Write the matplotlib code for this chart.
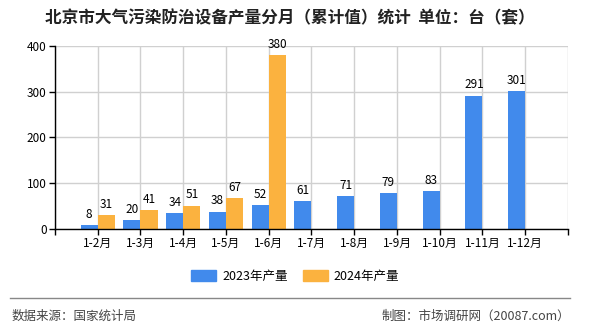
import numpy as np
import matplotlib
matplotlib.use('Agg')
import matplotlib.pyplot as plt
from matplotlib.patches import Patch

plt.rcParams['font.family'] = ['Noto Sans CJK SC', 'DejaVu Sans']

categories = ['1-2月', '1-3月', '1-4月', '1-5月', '1-6月', '1-7月',
              '1-8月', '1-9月', '1-10月', '1-11月', '1-12月']
values_2023 = [8, 20, 34, 38, 52, 61, 71, 79, 83, 291, 301]
values_2024 = [31, 41, 51, 67, 380]
y_ticks = [0, 100, 200, 300, 400]

BLUE = '#418AEC'
ORANGE = '#FBB23F'

fig = plt.figure(figsize=(5.9, 3.3), dpi=100)
fig.patch.set_facecolor('white')
ax = fig.add_axes([0.0932, 0.306, 0.8695, 0.5555])

x = np.arange(1, len(categories) + 1)
w = 0.4
x24 = x[:len(values_2024)]
b1 = ax.bar(x - w / 2, values_2023, width=w, color=BLUE, zorder=3)
b2 = ax.bar(x24 + w / 2, values_2024, width=w, color=ORANGE, zorder=3)

# value labels above each bar
for bars, vals in [(b1, values_2023), (b2, values_2024)]:
    for rect, v in zip(bars, vals):
        ax.annotate(str(v), (rect.get_x() + rect.get_width() / 2, v),
                    xytext=(0, 3), textcoords='offset points',
                    ha='center', va='bottom', fontsize=8.5, color='black')

ax.set_xlim(0, len(categories) + 1)
ax.set_ylim(0, 400)
ax.set_xticks(np.arange(0, len(categories) + 2))
ax.set_xticklabels([''] + categories + [''], fontsize=8.5)
ax.set_yticks(y_ticks)
ax.set_yticklabels([str(t) for t in y_ticks], fontsize=8.5)
ax.tick_params(axis='both', length=4, width=1, color='black', pad=2)
ax.grid(True, color='#D0D0D0', linewidth=1, zorder=0)
for s in ['top', 'right']:
    ax.spines[s].set_visible(False)
for s in ['left', 'bottom']:
    ax.spines[s].set_color('black')
    ax.spines[s].set_linewidth(1)
    ax.spines[s].set_zorder(4)

fig.text(0.492, 0.945, '北京市大气污染防治设备产量分月（累计值）统计  单位：台（套）',
         ha='center', va='center', fontsize=12, fontweight='bold', color='#222222')

handles = [Patch(color=BLUE), Patch(color=ORANGE)]
fig.legend(handles, ['2023年产量', '2024年产量'], loc='center',
           bbox_to_anchor=(0.5, 0.163), ncol=2, frameon=False, fontsize=9,
           handlelength=2.0, handleheight=0.9, columnspacing=1.2, handletextpad=0.5)

fig.add_artist(plt.Line2D([0.017, 0.966], [0.097, 0.097], color='#888888', linewidth=1))
fig.text(0.02, 0.042, '数据来源：国家统计局', ha='left', va='center', fontsize=9, color='#444444')
fig.text(0.966, 0.042, '制图：市场调研网（20087.com）', ha='right', va='center', fontsize=9, color='#444444')

fig.savefig('out.png', dpi=100, facecolor='white')
